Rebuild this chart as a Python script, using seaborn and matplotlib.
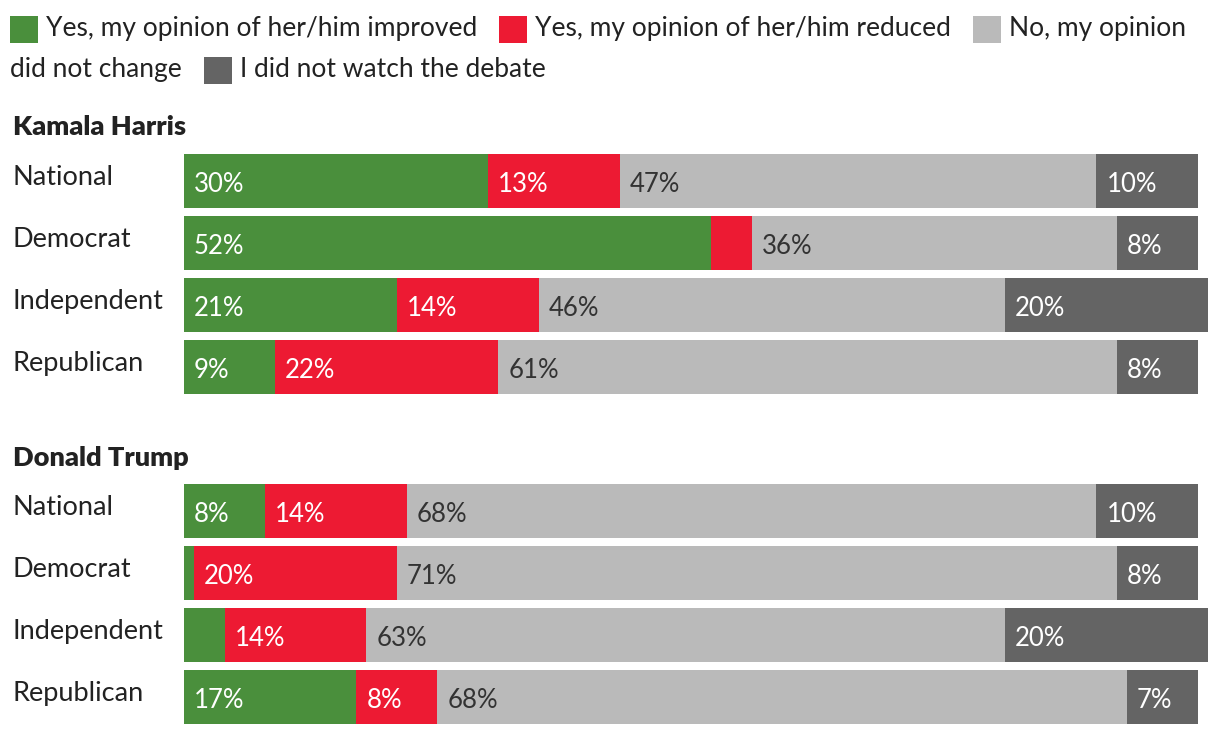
import numpy as np
import pandas as pd
import seaborn as sns
import matplotlib
matplotlib.use("Agg")
import matplotlib.pyplot as plt
from matplotlib.patches import Rectangle

# ---------------- data ----------------
categories = ["National", "Democrat", "Independent", "Republican"]
series_names = ["Yes, my opinion of her/him improved",
                "Yes, my opinion of her/him reduced",
                "No, my opinion did not change",
                "I did not watch the debate"]
harris_improved = [30, 52, 21, 9]
harris_reduced = [13, 4, 14, 22]
harris_nochange = [47, 36, 46, 61]
harris_notwatch = [10, 8, 20, 8]
trump_improved = [8, 1, 4, 17]
trump_reduced = [14, 20, 14, 8]
trump_nochange = [68, 71, 63, 68]
trump_notwatch = [10, 8, 20, 7]
group_titles = ["Kamala Harris", "Donald Trump"]

colors = ["#4a8f3c", "#ed1a33", "#bababa", "#646464"]
label_colors = ["white", "white", "#333333", "white"]

sns.set_theme(style="white")
FONT = ["Lato", "DejaVu Sans"]
plt.rcParams["font.family"] = FONT
TXT = "#222222"

W, H = 1220, 734
fig = plt.figure(figsize=(W / 100, H / 100), dpi=100)
PT = 0.72  # points per pixel at dpi 100


def fx(x):
    return x / W


def fy(y):
    return 1 - y / H


groups = [
    (harris_improved, harris_reduced, harris_nochange, harris_notwatch),
    (trump_improved, trump_reduced, trump_nochange, trump_notwatch),
]
axes_top = [150, 480]
row_h = 62
x_left, x_right = 184, 1208

for gi, series in enumerate(groups):
    top = axes_top[gi]
    bottom = top + row_h * len(categories)
    ax = fig.add_axes([fx(x_left), fy(bottom), fx(x_right - x_left), (bottom - top) / H])
    df = pd.DataFrame({"category": categories})
    for si, s in enumerate(series):
        df[f"s{si}"] = s
    cum = df[[f"s{i}" for i in range(4)]].cumsum(axis=1)
    # draw from the longest cumulative bar down, so the segments stack
    for si in range(3, -1, -1):
        sns.barplot(x=cum[f"s{si}"], y=df["category"], orient="h", color=colors[si],
                    saturation=1, width=54 / 62, linewidth=0, ax=ax)
    # value labels
    for si in range(4):
        starts = (cum[f"s{si}"] - df[f"s{si}"]).values
        for ri, v in enumerate(df[f"s{si}"].values):
            if v >= 7:
                ax.annotate(f"{v}%", xy=(starts[ri], ri), xytext=(10 * PT, -10.5 * PT),
                            textcoords="offset points", ha="left", va="baseline",
                            color=label_colors[si], fontsize=18.5)
    # category labels
    for ri, c in enumerate(categories):
        ax.annotate(c, xy=(0, ri), xycoords=("axes fraction", "data"),
                    xytext=(-(x_left - 12) * PT, -4 * PT), textcoords="offset points",
                    ha="left", va="baseline", fontsize=19.5, color=TXT)
    ax.set_xlim(0, 101)
    ax.set_ylim(len(categories) - 0.5, -0.5)
    ax.set_xlabel("")
    ax.set_ylabel("")
    ax.set_xticks([])
    ax.set_yticks([])
    sns.despine(ax=ax, left=True, bottom=True)
    ax.set_facecolor("none")
    fig.text(fx(13), fy([135, 466][gi]), group_titles[gi], fontsize=19.5,
             fontweight="heavy", color=TXT, va="baseline", ha="left")

# ---------------- legend (flowing, two lines) ----------------
renderer = fig.canvas.get_renderer()
LEG_FS = 19.0
lines = [
    [(0, series_names[0]), (1, series_names[1]), (2, "No, my opinion")],
    [(None, "did not change"), (3, series_names[3])],
]
baselines = [36, 77]
for li, items in enumerate(lines):
    x = 10
    base = baselines[li]
    for ci, txt in items:
        if ci is not None:
            fig.patches.append(Rectangle((fx(x), fy(base + 7)), fx(28), 27 / H,
                                         transform=fig.transFigure, color=colors[ci],
                                         linewidth=0))
            x += 36
        t = fig.text(fx(x), fy(base), txt, fontsize=LEG_FS, color=TXT,
                     va="baseline", ha="left")
        x += t.get_window_extent(renderer).width + 22

fig.savefig("out.png", dpi=100)
